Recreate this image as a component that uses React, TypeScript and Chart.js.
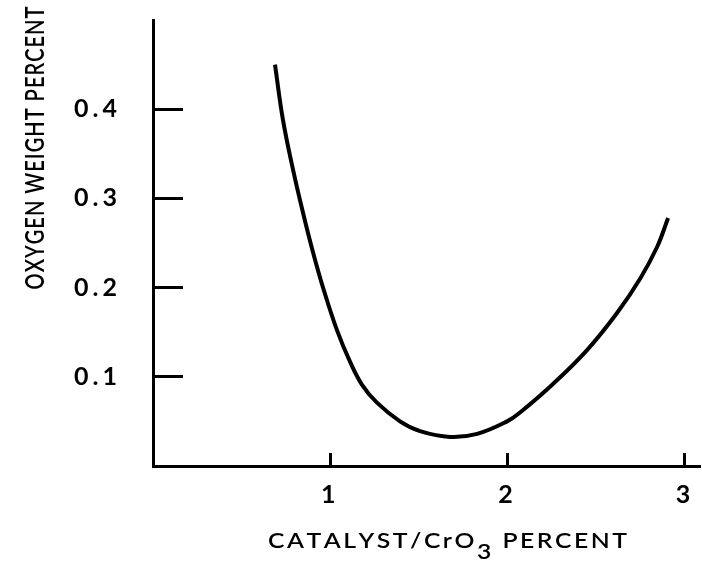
import { useEffect, useRef } from 'react';
import { Chart, registerables } from 'chart.js';

Chart.register(...registerables);

// Catalyst / CrO3 percent (x) and oxygen weight percent (y)
const catalystPercent = [0.688, 0.733, 0.79, 0.846, 0.902, 0.959, 1.038, 1.111, 1.179, 1.263, 1.393, 1.506, 1.675, 1.828, 1.997, 2.07, 2.256, 2.448, 2.617, 2.747, 2.843, 2.905];
const oxygenPercent = [0.45, 0.388, 0.332, 0.284, 0.24, 0.2, 0.152, 0.117, 0.091, 0.071, 0.05, 0.039, 0.0325, 0.036, 0.05, 0.06, 0.092, 0.13, 0.1715, 0.21, 0.2455, 0.278];

const xTickValues = [1, 2, 3];
const yTickValues = [0.1, 0.2, 0.3, 0.4];
const xAxisTitleParts = ['CATALYST/CrO', '3', ' PERCENT'];
const yAxisTitle = 'OXYGEN WEIGHT PERCENT';

const FONT_FAMILY = 'Lato, "Open Sans", sans-serif';

type Part = { text: string; dy: number };

// Draws text so that it spans `target` pixels: glyphs are scaled horizontally
// and spaced by roughly `gap` pixels.
function drawFitted(
  ctx: CanvasRenderingContext2D,
  parts: Part[],
  startX: number,
  baseline: number,
  target: number,
  gap: number
) {
  const chars: Part[] = [];
  parts.forEach((p) => {
    Array.from(p.text).forEach((c) => chars.push({ text: c, dy: p.dy }));
  });
  const widths = chars.map((o) => ctx.measureText(o.text).width);
  const natural = widths.reduce((s, w) => s + w, 0);
  const n = chars.length;
  const sx = (target - gap * (n - 1)) / natural;
  ctx.save();
  ctx.translate(startX, baseline);
  ctx.scale(sx, 1);
  let x = 0;
  chars.forEach((o, i) => {
    ctx.fillText(o.text, x, o.dy);
    x += widths[i] + gap / sx;
  });
  ctx.restore();
}

const axisTitlePlugin = {
  id: 'axisTitles',
  beforeDraw(chart: any) {
    const ctx = chart.ctx as any;
    if ('letterSpacing' in ctx) ctx.letterSpacing = '4px';
  },
  afterDraw(chart: any) {
    const ctx = chart.ctx as any;
    ctx.save();
    if ('letterSpacing' in ctx) ctx.letterSpacing = '0px';
    ctx.fillStyle = '#000';
    ctx.textAlign = 'left';
    ctx.textBaseline = 'alphabetic';
    ctx.font = `600 21px ${FONT_FAMILY}`;
    drawFitted(
      ctx,
      [
        { text: xAxisTitleParts[0], dy: 0 },
        { text: xAxisTitleParts[1], dy: 11 },
        { text: xAxisTitleParts[2], dy: 0 },
      ],
      268,
      548,
      359,
      2.5
    );
    ctx.translate(44, 148);
    ctx.rotate(-Math.PI / 2);
    ctx.font = `600 27px ${FONT_FAMILY}`;
    drawFitted(ctx, [{ text: yAxisTitle, dy: 0 }], -141.5, 0, 283, 1);
    ctx.restore();
  },
};

const resetPadding = (scale: any) => {
  scale.paddingTop = 0;
  scale.paddingBottom = 0;
  scale.paddingLeft = 0;
  scale.paddingRight = 0;
};

export default function App() {
  const canvasRef = useRef<HTMLCanvasElement | null>(null);

  useEffect(() => {
    const canvas = canvasRef.current;
    if (!canvas) return;
    const points = catalystPercent.map((x, i) => ({ x, y: oxygenPercent[i] }));
    const chart = new Chart(canvas, {
      type: 'line',
      data: {
        datasets: [
          {
            data: points,
            borderColor: '#000',
            borderWidth: 4,
            pointRadius: 0,
            fill: false,
            tension: 0.4,
          },
        ],
      },
      options: {
        animation: false,
        responsive: false,
        layout: { padding: { top: 20, right: 2, left: 0, bottom: 0 } },
        plugins: { legend: { display: false }, tooltip: { enabled: false }, title: { display: false } },
        scales: {
          x: {
            type: 'linear',
            min: 0,
            max: 3.085,
            afterBuildTicks: (scale: any) => {
              scale.ticks = xTickValues.map((v) => ({ value: v }));
            },
            afterFit: (scale: any) => {
              scale.height = 101;
              resetPadding(scale);
            },
            grid: {
              drawOnChartArea: false,
              drawTicks: true,
              tickLength: -13,
              tickWidth: 3,
              tickColor: '#000',
            },
            border: { display: true, color: '#000', width: 3 },
            ticks: {
              autoSkip: false,
              maxRotation: 0,
              padding: 27,
              color: '#000',
              font: { family: FONT_FAMILY, size: 25, weight: 'bold' },
              callback: (v: any) => String(v),
            },
          },
          y: {
            type: 'linear',
            min: 0,
            max: 0.5,
            afterBuildTicks: (scale: any) => {
              scale.ticks = yTickValues.map((v) => ({ value: v }));
            },
            afterFit: (scale: any) => {
              scale.width = 153;
              resetPadding(scale);
            },
            grid: {
              drawOnChartArea: false,
              drawTicks: true,
              tickLength: -30,
              tickWidth: 3,
              tickColor: '#000',
            },
            border: { display: true, color: '#000', width: 3 },
            ticks: {
              autoSkip: false,
              padding: 62,
              color: '#000',
              font: { family: FONT_FAMILY, size: 25, weight: 'bold' },
              callback: (v: any) => Number(v).toFixed(1),
            },
          },
        },
      },
      plugins: [axisTitlePlugin],
    } as any);
    return () => chart.destroy();
  }, []);

  return (
    <div style={{ position: 'fixed', left: 0, top: 0, width: 702, height: 567, background: '#fff' }}>
      <canvas ref={canvasRef} width={702} height={567} />
    </div>
  );
}
